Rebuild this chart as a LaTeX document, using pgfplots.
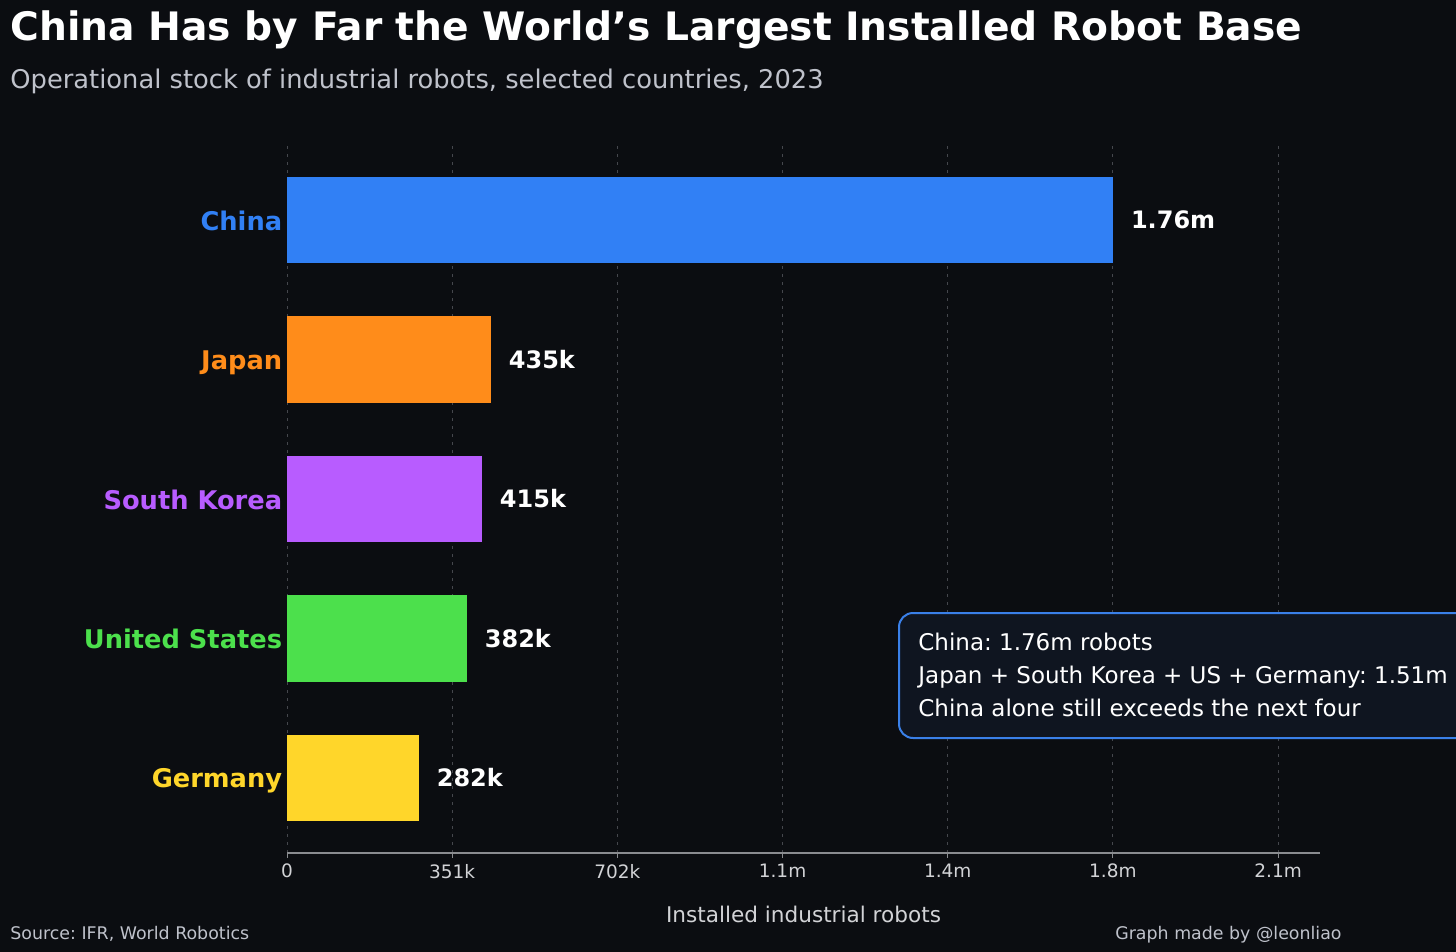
\documentclass[border=0pt]{standalone}
\usepackage{fontspec}
\setmainfont{DejaVu Sans}
\usepackage{pgfplots}
\pgfplotsset{compat=1.18}
\definecolor{bg}{HTML}{0B0D11}
\definecolor{cChina}{HTML}{3180F5}
\definecolor{cJapan}{HTML}{FF8C1A}
\definecolor{cKorea}{HTML}{B85CFF}
\definecolor{cUS}{HTML}{4CE04C}
\definecolor{cGermany}{HTML}{FFD62A}
\definecolor{gridc}{HTML}{45474D}
\definecolor{axisc}{HTML}{8A8C90}
\definecolor{tickc}{HTML}{D2D3D6}
\definecolor{subc}{HTML}{BFC2CB}
\definecolor{boxfill}{HTML}{0F1520}
\definecolor{boxdraw}{HTML}{3A80E8}
\frenchspacing
\begin{document}
\begin{tikzpicture}[x=0.5pt,y=-0.5pt]
\fill[bg] (0,0) rectangle (1456,952);
\clip (0,0) rectangle (1456,952);
\coordinate (axSW) at (287,853);
\begin{axis}[
  at={(axSW)}, anchor=south west,
  scale only axis, width=516.5pt, height=354pt,
  xbar, bar width=0.62, bar shift=0pt,
  xmin=0, xmax=2195000, ymin=-0.54, ymax=4.54,
  axis lines*=left,
  y axis line style={draw=none},
  x axis line style={draw=axisc, line width=0.6pt},
  scaled x ticks=false,
  xtick={0,351000,702000,1053000,1404000,1755000,2106000},
  xticklabels={0,351k,702k,1.1m,1.4m,1.8m,2.1m},
  ytick={0,1,2,3,4},
  yticklabels={\textcolor{cGermany}{Germany},\textcolor{cUS}{United States},\textcolor{cKorea}{South Korea},\textcolor{cJapan}{Japan},\textcolor{cChina}{China}},
  ytick style={draw=none},
  xtick style={draw=axisc, line width=0.5pt},
  tick align=outside, major tick length=2.5pt,
  /pgf/number format/assume math mode=true,
  xticklabel style={font=\fontsize{9.25pt}{11pt}\selectfont, text=tickc, yshift=0.5pt},
  yticklabel style={font=\fontsize{12.85pt}{15pt}\selectfont\bfseries, anchor=base east, xshift=3.6pt, yshift=-5.1pt},
  xmajorgrids,
  grid style={draw=gridc, line width=0.5pt, dash pattern=on 1.5pt off 2.5pt},
  xlabel={Installed industrial robots},
  xlabel style={at={(0.5,0)}, anchor=center, yshift=-30.5pt, font=\fontsize{10.8pt}{13pt}\selectfont, text=tickc},
  point meta=explicit symbolic,
  nodes near coords,
  every node near coord/.append style={anchor=west, xshift=5.5pt, text=white, font=\fontsize{12pt}{14pt}\selectfont\bfseries},
]
\addplot[fill=cChina, draw=none] coordinates {(1755000,4) [1.76m]};
\addplot[fill=cJapan, draw=none] coordinates {(433000,3) [435k]};
\addplot[fill=cKorea, draw=none] coordinates {(414000,2) [415k]};
\addplot[fill=cUS, draw=none] coordinates {(382000,1) [382k]};
\addplot[fill=cGermany, draw=none] coordinates {(280000,0) [282k]};
\end{axis}
\node[anchor=base west, inner sep=0, text=white, font=\fontsize{19.6pt}{23pt}\selectfont\bfseries] at (10,41) {China Has by Far the World’s Largest Installed Robot Base};
\node[anchor=base west, inner sep=0, text=subc, font=\fontsize{12.87pt}{15pt}\selectfont] at (10,89) {Operational stock of industrial robots, selected countries, 2023};
\node[anchor=base west, inner sep=0, text=subc, font=\fontsize{8.7pt}{10pt}\selectfont] at (10,939) {Source: IFR, World Robotics};
\node[anchor=base east, inner sep=0, text=subc, font=\fontsize{8.7pt}{10pt}\selectfont] at (1342,939) {Graph made by @leonliao};
\draw[boxdraw, fill=boxfill, line width=1pt, rounded corners=7pt] (899,613) rectangle (1475,738);
\node[anchor=base west, inner sep=0, text=white, font=\fontsize{11.5pt}{13pt}\selectfont] at (918,650) {China: 1.76m robots};
\node[anchor=base west, inner sep=0, text=white, font=\fontsize{11.5pt}{13pt}\selectfont] at (918,683) {Japan + South Korea + US + Germany: 1.51m};
\node[anchor=base west, inner sep=0, text=white, font=\fontsize{11.5pt}{13pt}\selectfont] at (918,716) {China alone still exceeds the next four};
\end{tikzpicture}
\end{document}
